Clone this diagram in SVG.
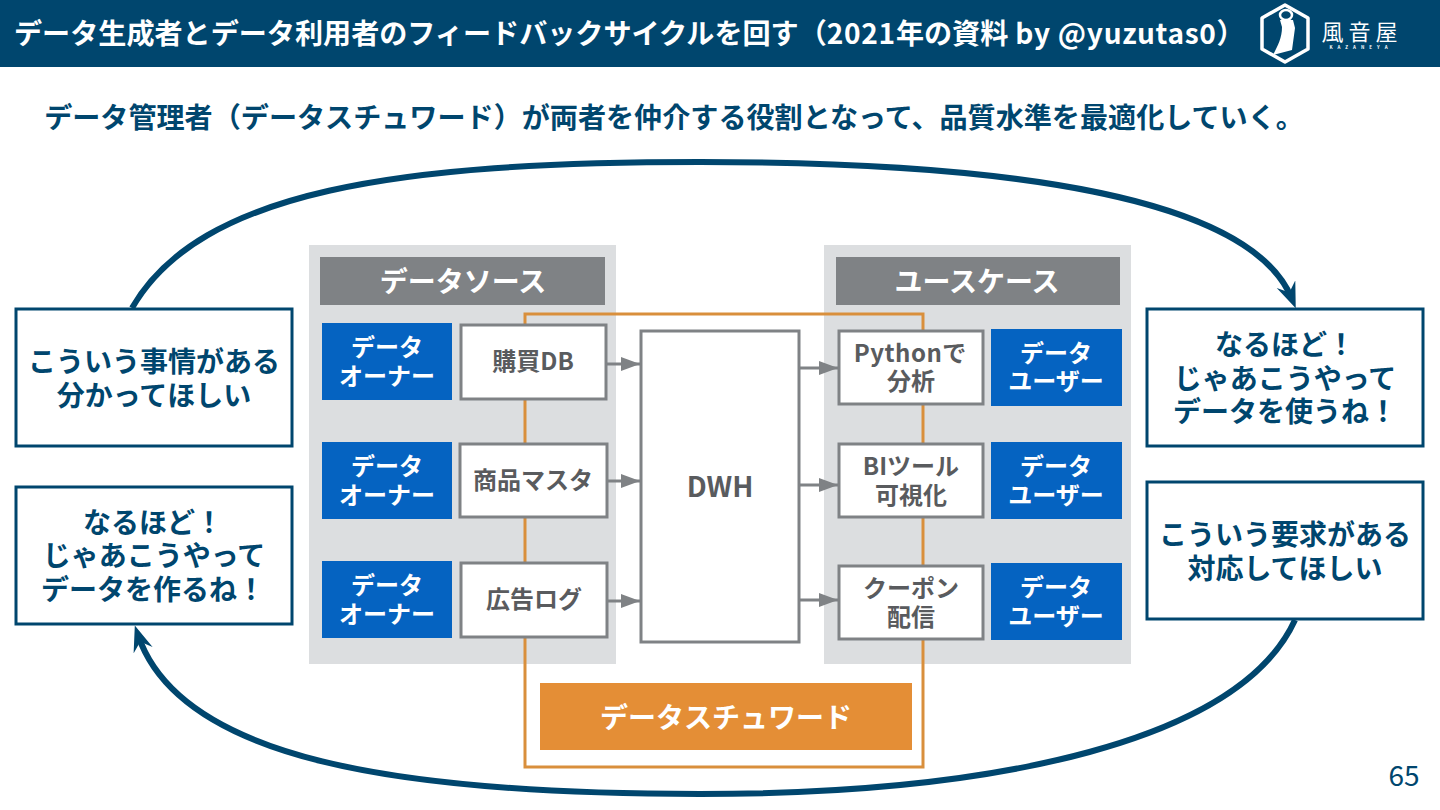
<svg xmlns="http://www.w3.org/2000/svg" width="1440" height="810" viewBox="0 0 1440 810">
<style>
text{font-family:"Noto Sans CJK JP","Noto Sans",sans-serif;font-weight:700;text-anchor:middle}
.g{fill:#dcdee0}
.h{fill:#7f8285}
.ht{fill:#fff;font-size:28px}
.b{fill:#0563c1}
.bt{fill:#fff;font-size:24px}
.w{fill:#fff;stroke:#7f8285;stroke-width:3}
.wt{fill:#595b5e;font-size:24px}
.n{fill:#fff;stroke:#00466e;stroke-width:3}
.nt{fill:#00466e;font-size:28px}
.o{fill:none;stroke:#d98f3c;stroke-width:3}
.c{fill:none;stroke:#7f8285;stroke-width:3;marker-end:url(#ga)}
.loop{fill:none;stroke:#00466e;stroke-width:6;marker-end:url(#na)}
.l{letter-spacing:.7px}
</style>
<defs>
<marker id="ga" markerUnits="userSpaceOnUse" markerWidth="20" markerHeight="16" refX="19" refY="8" orient="auto"><path d="M0 1L19 8L0 15z" fill="#7f8285"/></marker>
<marker id="na" markerUnits="userSpaceOnUse" markerWidth="28" markerHeight="22" refX="16" refY="10" orient="auto"><path d="M0 0L26 10L0 20L9 10z" fill="#00466e"/></marker>
</defs>
<rect width="1440" height="67" fill="#00466e"/>
<text x="14" y="44" style="font-size:28.1px;fill:#fff;text-anchor:start">データ生成者とデータ利用者のフィードバックサイクルを回す（<tspan class="l">2021</tspan>年の資料<tspan class="l"> by @yuzutas0</tspan>）</text>
<g id="logo">
<path d="M1285 5L1308 18V49L1285 62L1262 49V18z" fill="none" stroke="#fff" stroke-width="3.5" stroke-linejoin="round"/>
<ellipse cx="1286" cy="15" rx="6" ry="5" fill="none" stroke="#fff" stroke-width="2.5"/>
<path d="M1280 20L1293 20L1295 28L1292 50L1273 55C1278 45 1282 38 1282 27z" fill="#fff"/>
<text x="1362" y="40" style="font-size:22px;fill:#fff;font-weight:400;letter-spacing:5px">風音屋</text>
<text x="1361" y="49" style="font-size:4.5px;fill:#fff;letter-spacing:5px">KAZANEYA</text>
</g>
<text x="674" y="128" style="font-size:28.1px;fill:#00466e">データ管理者（データスチュワード）が両者を仲介する役割となって、品質水準を最適化していく。</text>
<rect class="g" x="309" y="245" width="307" height="419"/>
<rect class="g" x="824" y="245" width="307" height="419"/>
<g id="connectors">
<path class="loop" d="M132 308C200 190 400 162 700 162C1000 162 1250 195 1292 299"/>
<path class="loop" d="M1295 620C1240 740 1000 794 700 794C400 794 180 760 138 635"/>
<path class="o" d="M525 664V767H923V664M525 664V314H923V664"/>
<path class="c" d="M606 364H640"/>
<path class="c" d="M608 481H640"/>
<path class="c" d="M608 601H640"/>
<path class="c" d="M799 368H838"/>
<path class="c" d="M799 485H838"/>
<path class="c" d="M799 600H838"/>
</g>
<g id="src-header"><rect class="h" x="320" y="257" width="285" height="48"/><text class="ht" x="463" y="292">データソース</text></g>
<g id="use-header"><rect class="h" x="836" y="257" width="284" height="48"/><text class="ht" x="977" y="292">ユースケース</text></g>
<g id="owner1"><rect class="b" x="322" y="323" width="130" height="77"/><text class="bt" x="387" y="356">データ</text><text class="bt" x="387" y="385">オーナー</text></g>
<g id="owner2"><rect class="b" x="322" y="442" width="130" height="77"/><text class="bt" x="387" y="475">データ</text><text class="bt" x="387" y="504">オーナー</text></g>
<g id="owner3"><rect class="b" x="322" y="561" width="130" height="77"/><text class="bt" x="387" y="594">データ</text><text class="bt" x="387" y="623">オーナー</text></g>
<g id="src1"><rect class="w" x="461" y="325" width="145" height="74"/><text class="wt" x="533" y="370">購買DB</text></g>
<g id="src2"><rect class="w" x="460" y="444" width="147" height="73"/><text class="wt" x="533" y="489">商品マスタ</text></g>
<g id="src3"><rect class="w" x="461" y="563" width="146" height="74"/><text class="wt" x="534" y="608">広告ログ</text></g>
<g id="dwh"><rect class="w" x="641" y="331" width="158" height="311"/><text x="720" y="497" style="font-size:28px;fill:#595b5e">DWH</text></g>
<g id="use1"><rect class="w" x="839" y="331" width="144" height="73"/><text class="wt" x="910" y="362"><tspan letter-spacing=".5">Python</tspan>で</text><text class="wt" x="911" y="390">分析</text></g>
<g id="use2"><rect class="w" x="839" y="444" width="144" height="73"/><text class="wt" x="911" y="475">BIツール</text><text class="wt" x="911" y="504">可視化</text></g>
<g id="use3"><rect class="w" x="839" y="566" width="144" height="73"/><text class="wt" x="911" y="597">クーポン</text><text class="wt" x="911" y="626">配信</text></g>
<g id="user1"><rect class="b" x="991" y="329" width="131" height="77"/><text class="bt" x="1056" y="362">データ</text><text class="bt" x="1056" y="390">ユーザー</text></g>
<g id="user2"><rect class="b" x="991" y="442" width="131" height="77"/><text class="bt" x="1056" y="475">データ</text><text class="bt" x="1056" y="504">ユーザー</text></g>
<g id="user3"><rect class="b" x="991" y="563" width="131" height="77"/><text class="bt" x="1056" y="596">データ</text><text class="bt" x="1056" y="625">ユーザー</text></g>
<g id="steward"><rect x="540" y="683" width="372" height="67" fill="#e48e36"/><text x="726" y="728" style="font-size:28px;fill:#fff">データスチュワード</text></g>
<g id="note-l1"><rect class="n" x="16" y="309" width="276" height="137"/><text class="nt" x="154" y="372">こういう事情がある</text><text class="nt" x="154" y="406">分かってほしい</text></g>
<g id="note-l2"><rect class="n" x="16" y="487" width="276" height="137"/><text class="nt" x="153" y="533">なるほど！</text><text class="nt" x="154" y="566">じゃあこうやって</text><text class="nt" x="153" y="600">データを作るね！</text></g>
<g id="note-r1"><rect class="n" x="1147" y="309" width="276" height="137"/><text class="nt" x="1285" y="355">なるほど！</text><text class="nt" x="1285" y="389">じゃあこうやって</text><text class="nt" x="1285" y="422">データを使うね！</text></g>
<g id="note-r2"><rect class="n" x="1147" y="482" width="276" height="137"/><text class="nt" x="1285" y="545">こういう要求がある</text><text class="nt" x="1285" y="579">対応してほしい</text></g>
<text x="1404" y="786" style="font-size:28px;fill:#00466e;font-weight:400">65</text>
</svg>
